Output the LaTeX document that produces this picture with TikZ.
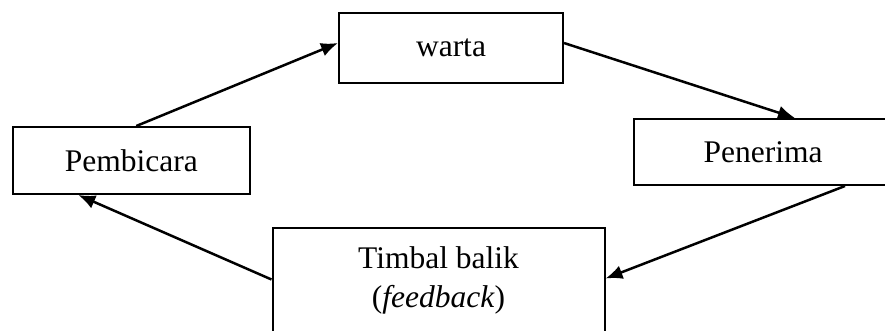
\documentclass[tikz,border=0pt]{standalone}
\usepackage{fontspec}
\setmainfont{Liberation Serif}
\usetikzlibrary{arrows.meta}

\tikzset{
  kotak/.style={draw,line width=2pt,inner sep=0pt,align=center,
    font=\fontsize{31.5}{39}\selectfont},
  panah/.style={line width=2.5pt,-{Latex[length=17pt,width=14pt]}}
}

\begin{document}
\begin{tikzpicture}[x=1pt,y=-1pt]
        \useasboundingbox (0,0) rectangle (885,330);
        \clip (0,0) rectangle (885,330);
        \node[kotak,minimum width=224pt,minimum height=70pt] (warta) at (451,48) {warta};
        \node[kotak,minimum width=237pt,minimum height=67pt] (pemb) at (131.3,160.5) {Pembicara};
        \node[kotak,minimum width=258pt,minimum height=66pt] (pen) at (763,152) {Penerima};
        \node[kotak,minimum width=332pt,minimum height=105pt] (timbal) at (438.5,280.5) {Timbal balik\\(\textit{feedback})};
        \draw[panah] ([xshift=5pt]pemb.north) -- ([yshift=5pt]warta.west);
        \draw[panah] ([yshift=5pt]warta.east) -- ([xshift=32pt]pen.north);
        \draw[panah] ([xshift=82pt]pen.south) -- ([yshift=2pt]timbal.east);
        \draw[panah] ([yshift=1pt]timbal.west) -- ([xshift=-53pt]pemb.south);
    \end{tikzpicture}
\end{document}
